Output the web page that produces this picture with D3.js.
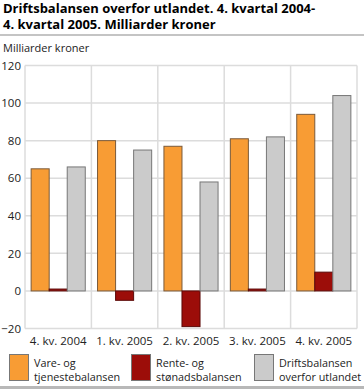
<!DOCTYPE html>
<html><head><meta charset="utf-8">
<script src="https://cdn.jsdelivr.net/npm/d3@7"></script>
<style>body{margin:0;background:#fff;}svg{display:block;font-family:"Open Sans",sans-serif;}</style>
</head><body>
<script>
const categories = ["4. kv. 2004","1. kv. 2005","2. kv. 2005","3. kv. 2005","4. kv. 2005"];
const seriesNames = [["Vare- og","tjenestebalansen"],["Rente- og","stønadsbalansen"],["Driftsbalansen","overfor utlandet"]];
const vare = [65, 80, 77, 81, 94];
const rente = [1, -5, -19, 1, 10];
const drift = [66, 75, 58, 82, 104];
const yTicks = [-20, 0, 20, 40, 60, 80, 100, 120];
const colors = ["#f89c34", "#9c0d09", "#cbcbcb"];
const titleLines = ["Driftsbalansen overfor utlandet. 4. kvartal 2004-","4. kvartal 2005. Milliarder kroner"];
const yLabel = "Milliarder kroner";

const W = 364, H = 389;
const FONT = "Open Sans, sans-serif";
const svg = d3.select("body").append("svg").attr("width", W).attr("height", H);
const m = {left: 25, right: 357, top: 65.5, bottom: 328.5};

svg.selectAll("text.title").data(titleLines).enter().append("text")
  .attr("x", 3).attr("y", (d,i) => 13 + i*15.5)
  .attr("font-size", 13).attr("font-weight", "bold").attr("fill", "#000").text(d => d);
svg.append("line").attr("x1", 0).attr("x2", W).attr("y1", 35).attr("y2", 35)
  .attr("stroke", "#b0b0b0").attr("stroke-width", 1.5);
svg.append("text").attr("x", 3).attr("y", 52).attr("font-size", 11).attr("fill", "#222").text(yLabel);

const y = d3.scaleLinear().domain([-20, 120]).range([m.bottom, m.top]);
const x0 = d3.scaleBand().domain(categories).range([m.left, m.right]).paddingInner(0).paddingOuter(0);
const x1 = d3.scaleBand().domain([0,1,2]).range([0, x0.bandwidth()]).paddingOuter(0.34).paddingInner(0);

const grid = svg.append("g");
grid.selectAll("line.h").data(yTicks).enter().append("line")
  .attr("x1", m.left).attr("x2", m.right).attr("y1", d => y(d)).attr("y2", d => y(d))
  .attr("stroke", "#dcdcdc").attr("stroke-width", 1.5);
const vlines = [...categories.map(c => x0(c)), m.right];
grid.selectAll("line.v").data(vlines).enter().append("line")
  .attr("x1", d => d).attr("x2", d => d).attr("y1", m.top).attr("y2", m.bottom)
  .attr("stroke", "#dcdcdc").attr("stroke-width", 1.5);

const yAxis = d3.axisLeft(y).tickValues(yTicks).tickSize(0).tickPadding(4);
const ya = svg.append("g").attr("transform", `translate(${m.left},0)`).call(yAxis);
ya.select(".domain").remove();
ya.selectAll("text").attr("font-size", 11.5).attr("fill", "#222").attr("font-family", FONT);

const xAxis = d3.axisBottom(x0).tickSize(0).tickPadding(8);
const xa = svg.append("g").attr("transform", `translate(0,${m.bottom})`).call(xAxis);
xa.select(".domain").remove();
xa.selectAll("text").attr("font-size", 11.5).attr("fill", "#222").attr("font-family", FONT);

const series = [vare, rente, drift];
const strokes = ["#7a5a3a", "#5a0a08", "#777"];
series.forEach((vals, s) => {
  svg.append("g").selectAll("rect").data(vals).enter().append("rect")
    .attr("x", (d,i) => x0(categories[i]) + x1(s))
    .attr("width", x1.bandwidth())
    .attr("y", d => y(Math.max(0, d)))
    .attr("height", d => Math.abs(y(d) - y(0)))
    .attr("fill", colors[s]).attr("stroke", strokes[s]).attr("stroke-width", 1);
});

const legX = [9, 131, 254];
const leg = svg.append("g");
seriesNames.forEach((nm, i) => {
  leg.append("rect").attr("x", legX[i] + 0.5).attr("y", 354.5).attr("width", 19).attr("height", 26)
    .attr("fill", colors[i]).attr("stroke", "#777").attr("stroke-width", 1);
  nm.forEach((t, j) => {
    leg.append("text").attr("x", legX[i] + 25).attr("y", 367 + j*14).attr("font-size", 10.8).attr("fill", "#222").text(t);
  });
});
svg.append("line").attr("x1", 0).attr("x2", W).attr("y1", 387.5).attr("y2", 387.5)
  .attr("stroke", "#b8b8b8").attr("stroke-width", 3);
</script>
</body></html>
